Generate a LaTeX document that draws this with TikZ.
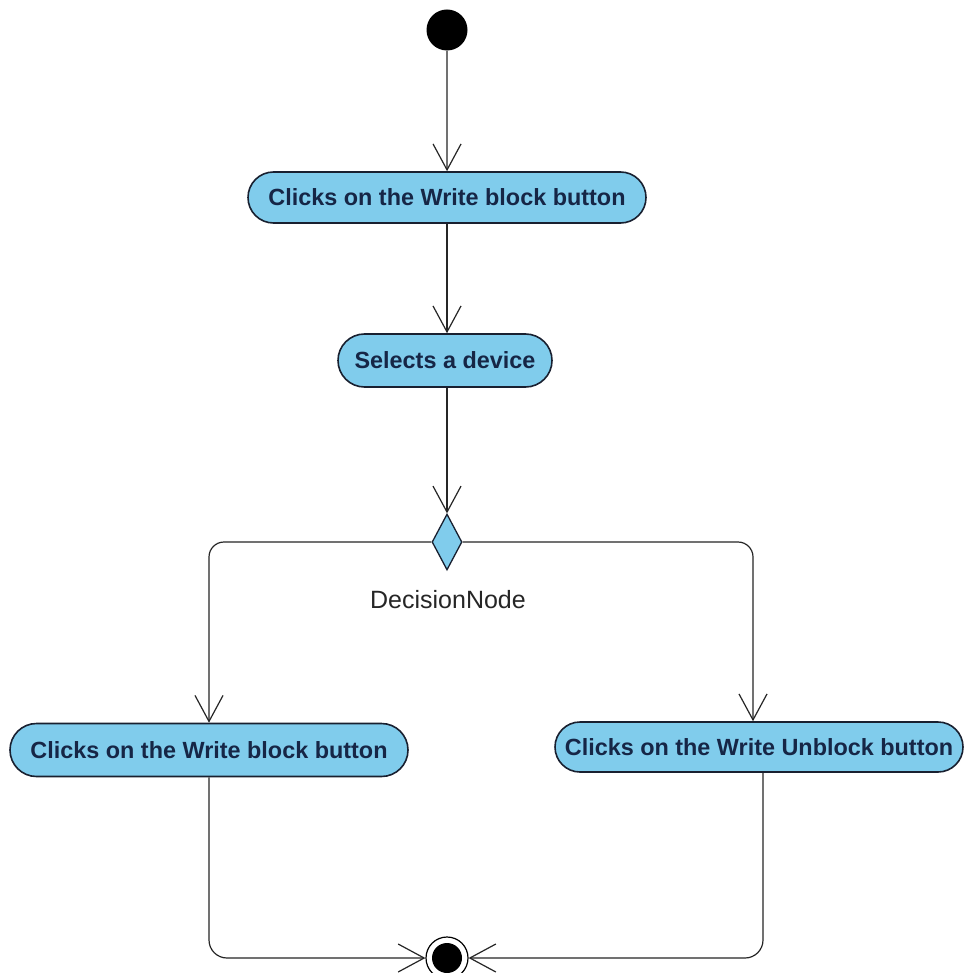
\documentclass[tikz,border=0pt]{standalone}
\usepackage{fontspec}
\setmainfont{Liberation Sans}
\usetikzlibrary{shapes.misc,shapes.geometric,arrows.meta}
\definecolor{actfill}{RGB}{128,204,236}
\definecolor{actline}{RGB}{25,32,48}
\definecolor{acttext}{RGB}{22,38,70}
\begin{document}
\begin{tikzpicture}[x=1pt,y=-1pt,
  act/.style={rounded rectangle, draw=actline, line width=1.6pt, fill=actfill, text=acttext,
    font=\fontsize{23.4}{28}\selectfont\bfseries, inner sep=0pt, minimum height=51pt},
  arr/.style={draw=black!85, line width=1.2pt, -{Straight Barb[length=26pt,width=28pt]}},
  startnode/.style={circle, fill=black, minimum size=41pt, inner sep=0pt},
  endnode/.style={circle, draw=black, line width=1.2pt, minimum size=42pt, inner sep=0pt},
  decnode/.style={diamond, draw=actline, line width=1.3pt, fill=actfill, minimum width=30pt, minimum height=56pt, inner sep=0pt}]
\useasboundingbox (0,0) rectangle (964,973);
\fill[white] (0,0) rectangle (964,973);
\node[startnode] (start) at (447,30) {};
\node[act, minimum width=398pt] (a1) at (447,197.5) {Clicks on the Write block button};
\node[act, minimum width=214pt, minimum height=53pt] (a2) at (445,360.5) {Selects a device};
\node[decnode] (dec) at (447,542) {};
\node[font=\fontsize{25}{30}\selectfont, text=black!85] (declab) at (448,600) {DecisionNode};
\node[act, minimum width=398pt, minimum height=53pt] (a3) at (209,750) {Clicks on the Write block button};
\node[act, minimum width=408pt, minimum height=50pt] (a4) at (759,747) {Clicks on the Write Unblock button};
\node[endnode] (end) at (447,958) {};
\fill[black] (end.center) circle (15pt);
\draw[arr] (start) -- (a1);
\draw[arr] (a1.south) -- (a1.south |- a2.north);
\draw[arr] (a2.south -| a1.south) -- (dec.north);
\draw[arr, rounded corners=15pt] (dec.west) -| (a3.north);
\draw[arr, rounded corners=15pt] (dec.east) -| ([xshift=-6pt]a4.north);
\draw[arr, rounded corners=18pt] (a3.south) |- (end.west);
\draw[arr, rounded corners=18pt] ([xshift=4pt]a4.south) |- (end.east);
\end{tikzpicture}
\end{document}
